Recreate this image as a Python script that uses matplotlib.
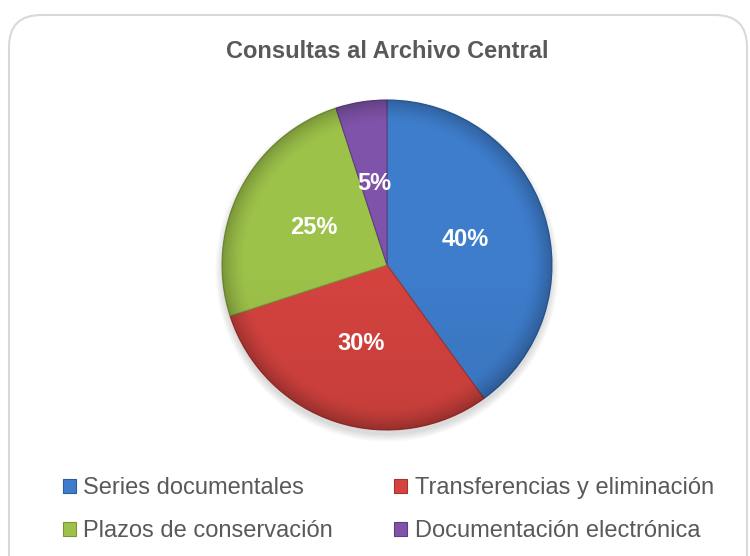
import matplotlib
matplotlib.use("Agg")
import matplotlib.pyplot as plt
from matplotlib.patches import FancyBboxPatch, Circle
import numpy as np

categories = ["Series documentales", "Transferencias y eliminación",
              "Plazos de conservación", "Documentación electrónica"]
values = [40, 30, 25, 5]
colors = ["#3E7DCC", "#D5433F", "#9DC24A", "#7F53A9"]
edge_colors = ["#2C5E9E", "#A53431", "#79953A", "#5F3E80"]
title = "Consultas al Archivo Central"

plt.rcParams['font.family'] = ['Liberation Sans', 'DejaVu Sans']

W, H = 750, 556
fig = plt.figure(figsize=(7.5, 5.56), dpi=100)
fig.patch.set_facecolor("white")

# rounded border box (background axes)
bg = fig.add_axes([0, 0, 1, 1], zorder=-5)
bg.set_xlim(0, W)
bg.set_ylim(H, 0)
bg.axis("off")
box = FancyBboxPatch((9, 15), 738, H + 40, boxstyle="round,pad=0,rounding_size=32",
                     facecolor="white", edgecolor="#D9D9D9", linewidth=1.5)
bg.add_patch(box)

cx, cy, r = 387, 265, 165
ax = fig.add_axes([(cx - r) / W, 1 - (cy + r) / H, 2 * r / W, 2 * r / H])
ax.set_aspect("equal")
ax.set_xlim(-1.0, 1.0)
ax.set_ylim(-1.0, 1.0)

# soft shadow under the pie
for k in range(6):
    ax.add_patch(Circle((0.0, -0.03), 1.0 + 0.008 * k, facecolor="black",
                        alpha=0.025, edgecolor="none", zorder=0, clip_on=False))

wedges, texts, autotexts = ax.pie(values, colors=colors, startangle=90,
                                  counterclock=False, autopct="%1.0f%%",
                                  pctdistance=0.5, radius=1.0,
                                  wedgeprops=dict(linewidth=0.8),
                                  textprops=dict(color="white", fontsize=17,
                                                 fontweight="bold"))
for w, ec in zip(wedges, edge_colors):
    w.set_edgecolor(ec)
    w.set_zorder(2)
ax.set_xlim(-1.0, 1.0)
ax.set_ylim(-1.0, 1.0)

# bevel-like shading overlay
n = 400
yy, xx = np.mgrid[1:-1:n * 1j, -1:1:n * 1j]
rr = np.hypot(xx, yy)
t = np.clip((rr - 0.86) / 0.14, 0, 1)
alpha = 0.22 * t ** 1.5 + 0.08 * np.clip(-yy, 0, 1)
img = np.zeros((n, n, 4))
img[..., 3] = alpha
im = ax.imshow(img, extent=(-1, 1, -1, 1), zorder=3, interpolation="bilinear")
clip = Circle((0, 0), 1.0, transform=ax.transData)
im.set_clip_path(clip)
for a in autotexts:
    a.set_zorder(5)

fig.text(cx / W, 1 - 52 / H, title, ha="center", va="center",
         fontsize=17, fontweight="bold", color="#595959")

order = [0, 2, 1, 3]
leg = fig.legend([wedges[i] for i in order], [categories[i] for i in order],
                 loc="upper left", ncol=2,
                 bbox_to_anchor=(42 / W, 1 - 456 / H), frameon=False,
                 fontsize=17, labelcolor="#595959",
                 handlelength=0.55, handleheight=0.55, handletextpad=0.3,
                 columnspacing=2.6, labelspacing=0.88)

fig.savefig("out.png", dpi=100)
